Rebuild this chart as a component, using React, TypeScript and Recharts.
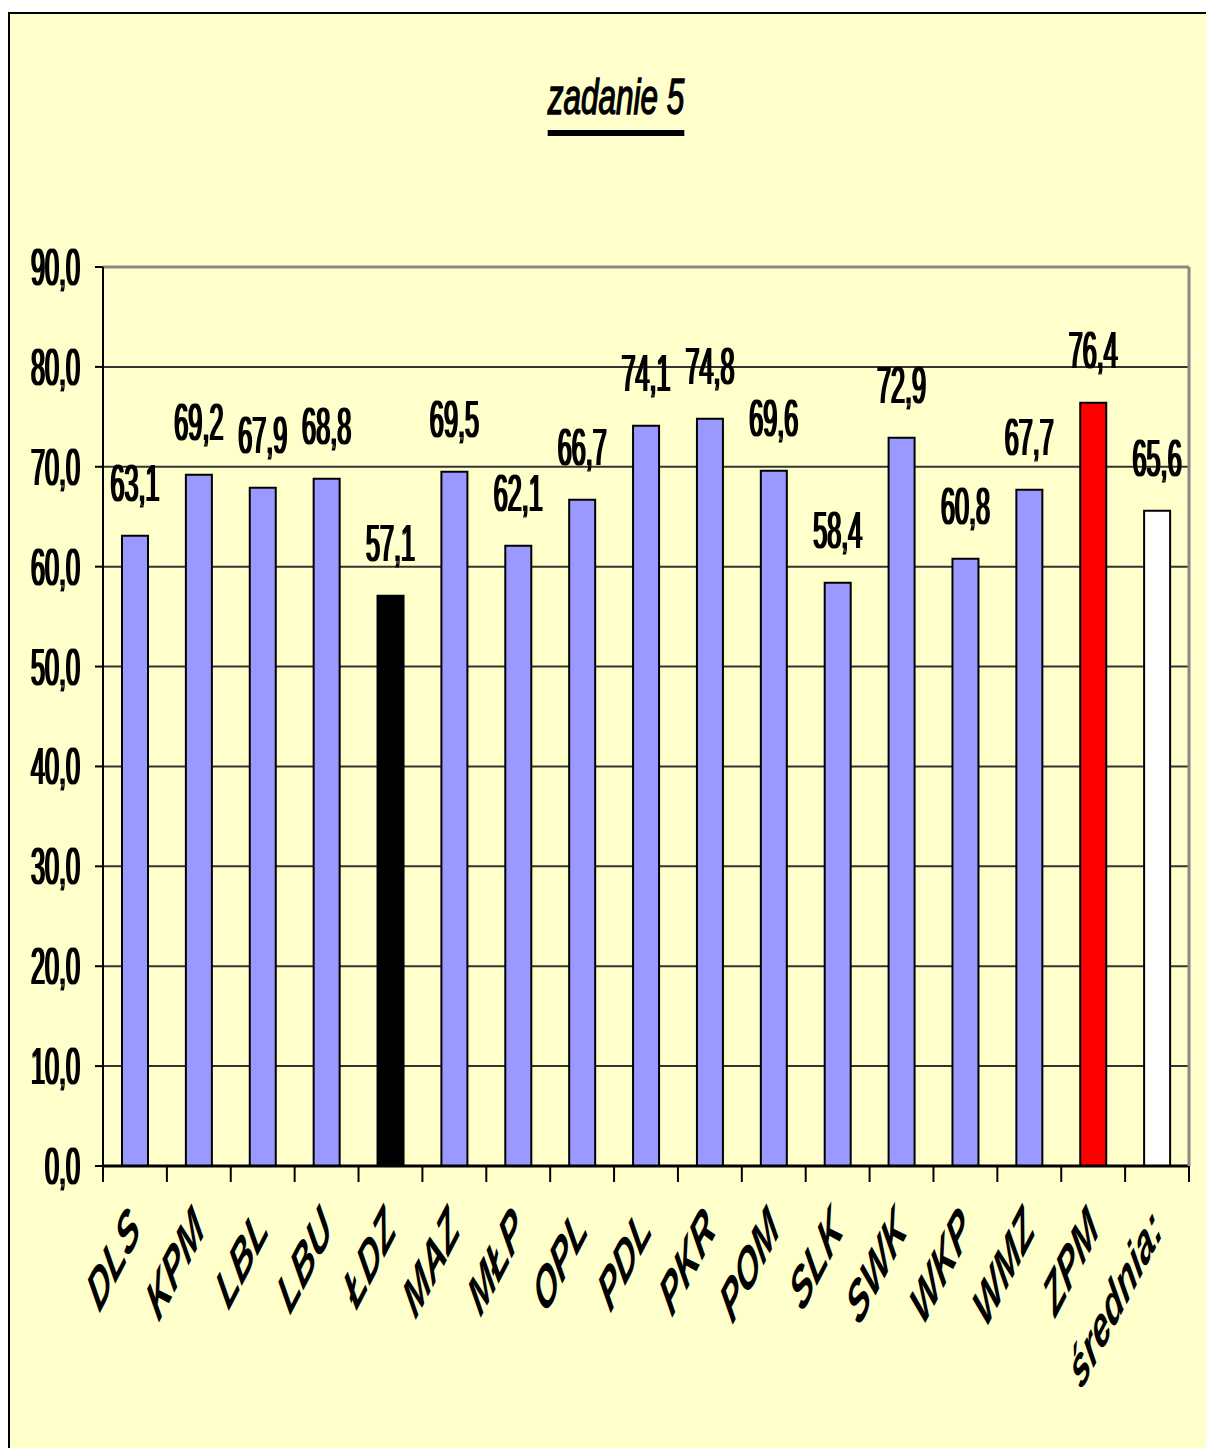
import React from 'react';
import { BarChart, Bar, XAxis, YAxis, CartesianGrid, ReferenceLine, LabelList, Cell } from 'recharts';

const regions = ['DLS', 'KPM', 'LBL', 'LBU', 'ŁDZ', 'MAZ', 'MŁP', 'OPL', 'PDL', 'PKR', 'POM', 'SLK', 'SWK', 'WKP', 'WMZ', 'ZPM', 'średnia:'];
const scores = [63.1, 69.2, 67.9, 68.8, 57.1, 69.5, 62.1, 66.7, 74.1, 74.8, 69.6, 58.4, 72.9, 60.8, 67.7, 76.4, 65.6];
const barColors = ['#9999ff', '#9999ff', '#9999ff', '#9999ff', '#000000', '#9999ff', '#9999ff', '#9999ff', '#9999ff', '#9999ff', '#9999ff', '#9999ff', '#9999ff', '#9999ff', '#9999ff', '#ff0000', '#ffffff'];
const yTicks = [0, 10, 20, 30, 40, 50, 60, 70, 80, 90];

const data = regions.map((name, i) => ({ name, value: scores[i] }));

const FONT = '"Liberation Sans", Arial, sans-serif';
const SQUEEZE = 0.485;

const fmt = (v: number) => v.toFixed(1).replace('.', ',');

const YTick = (props: any) => {
  const { x, y, payload } = props;
  return (
    <text transform={`translate(${x},${y + 18}) scale(${SQUEEZE},1)`} textAnchor="end" fontSize={52} fontFamily={FONT} fill="#000" filter="url(#thick)">
      {fmt(payload.value)}
    </text>
  );
};

const XTick = (props: any) => {
  const { x, y, payload, index } = props;
  const half = payload?.offset || 32;
  return (
    <g>
      <line x1={x - half} x2={x - half} y1={y} y2={y + 16} stroke="#000" strokeWidth={2} />
      {index === regions.length - 1 && (
        <line x1={x + half} x2={x + half} y1={y} y2={y + 16} stroke="#000" strokeWidth={2} />
      )}
      <text
        transform={`translate(${x + 7},${y + 66}) scale(0.52,1) rotate(-45)`}
        textAnchor="end"
        fontSize={58}
        fontWeight="bold"
        fontStyle="italic"
        fontFamily={FONT}
        fill="#000"
      >
        {payload.value}
      </text>
    </g>
  );
};

const ValueLabel = (props: any) => {
  const { x, y, width, value } = props;
  return (
    <text transform={`translate(${x + width / 2},${y - 35}) scale(${SQUEEZE},1)`} textAnchor="middle" fontSize={52} fontFamily={FONT} fill="#000" filter="url(#thick)">
      {fmt(value)}
    </text>
  );
};

export default function App() {
  return (
    <div style={{ position: 'absolute', left: 0, top: 0, width: 1206, height: 1448, background: '#fff', overflow: 'hidden' }}>
      <svg width={0} height={0} style={{ position: 'absolute' }}>
        <defs>
          <filter id="thick" x="-10%" y="-10%" width="120%" height="120%">
            <feMorphology operator="dilate" radius="2 0.2" />
          </filter>
        </defs>
      </svg>
      <div style={{ position: 'absolute', left: 8, top: 12, width: 1200, height: 1440, background: '#ffffcc', borderTop: '2px solid #000', borderLeft: '2px solid #000' }} />
      <div
        style={{
          position: 'absolute', left: 616, top: 72, whiteSpace: 'nowrap',
          fontFamily: FONT, fontSize: 50, lineHeight: '50px', fontStyle: 'italic',
          textDecoration: 'underline', textDecorationThickness: '6px', textUnderlineOffset: '16px',
          WebkitTextStroke: '1.5px #000',
          transform: 'translateX(-50%) scaleX(0.63)', color: '#000',
        }}
      >
        zadanie 5
      </div>
      <div style={{ position: 'absolute', left: 0, top: 0 }}>
        <BarChart width={1206} height={1448} data={data} margin={{ top: 267, right: 0, bottom: 0, left: 0 }}>
          <CartesianGrid yAxisId="left" vertical={false} stroke="#333" strokeWidth={2} />
          <ReferenceLine yAxisId="left" y={90} stroke="#888" strokeWidth={3} />
          <XAxis
            dataKey="name"
            height={282}
            interval={0}
            tickSize={0}
            tickMargin={0}
            tickLine={false}
            axisLine={{ stroke: '#000', strokeWidth: 3 }}
            tick={<XTick />}
          />
          <YAxis
            yAxisId="left"
            width={103}
            domain={[0, 90]}
            ticks={yTicks}
            interval={0}
            tickSize={8}
            tickMargin={15}
            tickLine={{ stroke: '#000', strokeWidth: 2 }}
            axisLine={{ stroke: '#000', strokeWidth: 2 }}
            tick={<YTick />}
          />
          <YAxis
            yAxisId="right"
            orientation="right"
            width={17}
            domain={[0, 90]}
            tick={false}
            tickLine={false}
            axisLine={{ stroke: '#888', strokeWidth: 3 }}
          />
          <Bar yAxisId="left" dataKey="value" barSize={26} stroke="#000" strokeWidth={2} isAnimationActive={false}>
            {data.map((_, i) => (
              <Cell key={`c-${i}`} fill={barColors[i]} />
            ))}
            <LabelList dataKey="value" content={<ValueLabel />} />
          </Bar>
        </BarChart>
      </div>
    </div>
  );
}
